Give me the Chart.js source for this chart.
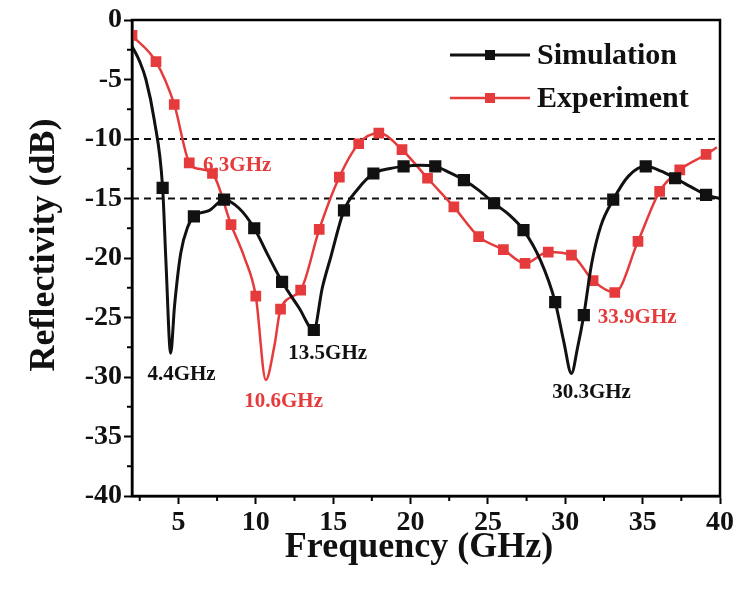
<!DOCTYPE html>
<html>
<head>
<meta charset="utf-8">
<title>Reflectivity</title>
<script src="https://cdn.jsdelivr.net/npm/chart.js@4.4.1/dist/chart.umd.min.js"></script>
<style>
  html, body { margin: 0; padding: 0; background: #fff; }
  #wrap { width: 754px; height: 593px; }
</style>
</head>
<body>
<div id="wrap"><canvas id="grafico1" width="754" height="593"></canvas></div>
<script>
// datos (GHz, dB)
const seriesNames = ['Simulation', 'Experiment'];

const simFreq = [2, 2.5, 2.9, 3.44, 3.98, 4.2, 4.5, 4.75, 5.15, 5.6, 6.0, 7.0, 7.95, 8.9, 9.9, 10.8, 11.7, 12.8, 13.75,
  14.3, 14.85, 15.7, 16.6, 17.6, 18.6, 19.55, 20.6, 21.6, 22.5, 23.45, 24.4, 25.4, 26.4, 27.3, 28.4, 29.35, 29.9,
  30.4, 30.8, 31.2, 31.7, 32.3, 33.1, 34.1, 35.2, 36.2, 37.1, 38.1, 39.1, 40];
const simRefl = [-2.2, -3.5, -5.0, -8.4, -14.1, -20.5, -28.0, -24.0, -19.6, -17.4, -16.5, -16.0, -15.1, -15.8, -17.5, -19.8, -22.0, -24.2, -26.05,
  -22.5, -19.9, -16.0, -14.2, -12.9, -12.5, -12.3, -12.2, -12.3, -12.8, -13.45, -14.3, -15.4, -16.4, -17.65, -20.2, -23.7, -27.0,
  -29.7, -27.5, -24.8, -20.5, -17.3, -15.1, -13.1, -12.3, -12.7, -13.3, -14.0, -14.7, -15.0];
const simMarkerFreq = [3.98, 6.0, 7.95, 9.9, 11.7, 13.75, 15.7, 17.6, 19.55, 21.6, 23.45, 25.4, 27.3, 29.35, 31.2, 33.1, 35.2, 37.1, 39.1];

const expFreq = [2, 3.55, 4.73, 5.7, 6.3, 7.2, 8.4, 9.25, 10.0, 10.65, 11.2, 11.6, 12.9, 14.1, 15.4, 16.65, 17.95, 19.45,
  21.1, 22.8, 24.4, 26.0, 27.4, 28.9, 30.4, 31.8, 33.2, 34.7, 36.1, 37.4, 39.1, 39.8];
const expRefl = [-1.3, -3.5, -7.1, -12.0, -12.5, -12.9, -17.2, -19.9, -23.2, -30.25, -27.4, -24.3, -22.7, -17.6, -13.2, -10.4, -9.5, -10.9,
  -13.3, -15.7, -18.2, -19.3, -20.45, -19.5, -19.75, -21.9, -22.9, -18.6, -14.4, -12.6, -11.3, -10.7];
const expMarkerFreq = [2, 3.55, 4.73, 5.7, 7.2, 8.4, 10.0, 11.6, 12.9, 14.1, 15.4, 16.65, 17.95, 19.45, 21.1, 22.8, 24.4,
  26.0, 27.4, 28.9, 30.4, 31.8, 33.2, 34.7, 36.1, 37.4, 39.1];

// líneas de referencia -10 dB y -15 dB
const refLevels = [-10, -15];

// etiquetas de los picos
const peakLabels = ['6.3GHz', '4.4GHz', '10.6GHz', '13.5GHz', '30.3GHz', '33.9GHz'];
const peakLabelFreq = [8.8, 5.2, 11.8, 14.65, 31.7, 34.65];
const peakLabelRefl = [-12.2, -29.8, -32.1, -28.0, -31.35, -25.0];
const peakSeries = [1, 0, 1, 0, 0, 1];

// ejes
const xTicks = [5, 10, 15, 20, 25, 30, 35, 40];
const xMinorTicks = [2.5, 7.5, 12.5, 17.5, 22.5, 27.5, 32.5, 37.5];
const yTicks = [-40, -35, -30, -25, -20, -15, -10, -5, 0];
const yMinorTicks = [-37.5, -32.5, -27.5, -22.5, -17.5, -12.5, -7.5, -2.5];
const axisTitles = ['Frequency (GHz)', 'Reflectivity (dB)'];

const serif = '"Liberation Serif", "DejaVu Serif", serif';
const simColor = '#111111';
const expColor = '#e53b3c';

const toPoints = (xs, ys) => xs.map((x, i) => ({ x: x, y: ys[i] }));

// etiquetas, marcas menores, marco, títulos y leyenda
const framePlugin = {
    id: 'frame',
    beforeDatasetsDraw(chart) {
        const ctx = chart.ctx;
        const xs = chart.scales.x, ys = chart.scales.y;
        ctx.save();
        ctx.font = 'bold 21px ' + serif;
        ctx.textAlign = 'center';
        ctx.textBaseline = 'middle';
        peakLabels.forEach((txt, i) => {
            ctx.fillStyle = chart.data.datasets[peakSeries[i]].borderColor;
            ctx.fillText(txt, xs.getPixelForValue(peakLabelFreq[i]), ys.getPixelForValue(peakLabelRefl[i]));
        });
        ctx.restore();
    },
    afterDraw(chart) {
        const ctx = chart.ctx;
        const a = chart.chartArea;
        const xs = chart.scales.x, ys = chart.scales.y;
        ctx.save();
        ctx.strokeStyle = '#000';
        ctx.lineWidth = 2;
        ctx.beginPath();
        xMinorTicks.forEach(v => {
            const px = xs.getPixelForValue(v);
            ctx.moveTo(px, a.bottom);
            ctx.lineTo(px, a.bottom + 5);
        });
        yMinorTicks.forEach(v => {
            const py = ys.getPixelForValue(v);
            ctx.moveTo(a.left, py);
            ctx.lineTo(a.left - 5, py);
        });
        ctx.stroke();

        ctx.lineWidth = 2.5;
        ctx.strokeRect(a.left, a.top, a.right - a.left, a.bottom - a.top);

        // títulos de ejes
        ctx.fillStyle = '#111';
        ctx.font = 'bold 36px ' + serif;
        ctx.textAlign = 'center';
        ctx.textBaseline = 'middle';
        ctx.fillText(axisTitles[0], a.left + 287, 548);
        ctx.save();
        ctx.translate(45, a.top + 225);
        ctx.rotate(-Math.PI / 2);
        ctx.fillText(axisTitles[1], 0, 0);
        ctx.restore();

        // leyenda
        [0, 1].forEach(i => {
            const ds = chart.data.datasets[i];
            const y = a.top + 35 + i * 43;
            const x0 = a.right - 270, x1 = a.right - 190;
            ctx.strokeStyle = ds.borderColor;
            ctx.lineWidth = ds.borderWidth;
            ctx.beginPath();
            ctx.moveTo(x0, y);
            ctx.lineTo(x1, y);
            ctx.stroke();
            ctx.fillStyle = ds.borderColor;
            ctx.fillRect((x0 + x1) / 2 - 5, y - 5, 10, 10);
            ctx.fillStyle = '#111';
            ctx.font = 'bold 30px ' + serif;
            ctx.textAlign = 'left';
            ctx.textBaseline = 'middle';
            ctx.fillText(seriesNames[i], a.right - 183, y + 1);
        });
        ctx.restore();
    }
};

const refDatasets = refLevels.map(v => ({
    label: 'ref' + v,
    data: [{ x: 2, y: v }, { x: 40, y: v }],
    borderColor: '#111',
    borderWidth: 2.2,
    borderDash: [7, 5],
    pointRadius: 0,
    order: 3
}));

const config = {
    type: 'line',
    data: {
        datasets: [
            {
                label: seriesNames[0],
                data: toPoints(simFreq, simRefl),
                borderColor: simColor,
                backgroundColor: simColor,
                borderWidth: 3,
                cubicInterpolationMode: 'monotone',
                pointStyle: 'rect',
                pointRadius: c => simMarkerFreq.includes(simFreq[c.dataIndex]) ? 6.5 : 0,
                order: 1
            },
            {
                label: seriesNames[1],
                data: toPoints(expFreq, expRefl),
                borderColor: expColor,
                backgroundColor: expColor,
                borderWidth: 2.5,
                cubicInterpolationMode: 'monotone',
                pointStyle: 'rect',
                pointRadius: c => expMarkerFreq.includes(expFreq[c.dataIndex]) ? 5.8 : 0,
                order: 2
            },
            ...refDatasets
        ]
    },
    options: {
        responsive: false,
        animation: false,
        layout: { padding: { top: 20, right: 34, left: 0, bottom: 0 } },
        plugins: {
            legend: { display: false },
            tooltip: { enabled: false }
        },
        scales: {
            x: {
                type: 'linear',
                min: 2,
                max: 40,
                afterBuildTicks: s => { s.ticks = xTicks.map(v => ({ value: v })); },
                afterFit: s => { s.height = 97; },
                grid: { drawOnChartArea: false, tickLength: 8, tickWidth: 2, tickColor: '#000' },
                border: { color: '#000', width: 2.5 },
                ticks: { color: '#111', font: { family: serif, size: 28, weight: 'bold' }, padding: 2, maxRotation: 0 }
            },
            y: {
                min: -40,
                max: 0,
                afterBuildTicks: s => { s.ticks = yTicks.map(v => ({ value: v })); },
                afterFit: s => { s.width = 132; },
                grid: { drawOnChartArea: false, tickLength: 8, tickWidth: 2, tickColor: '#000' },
                border: { color: '#000', width: 2.5 },
                ticks: { color: '#111', font: { family: serif, size: 28, weight: 'bold' }, padding: 2 }
            }
        }
    },
    plugins: [framePlugin]
};

const grafico = new Chart(document.getElementById('grafico1').getContext('2d'), config);
</script>
</body>
</html>
